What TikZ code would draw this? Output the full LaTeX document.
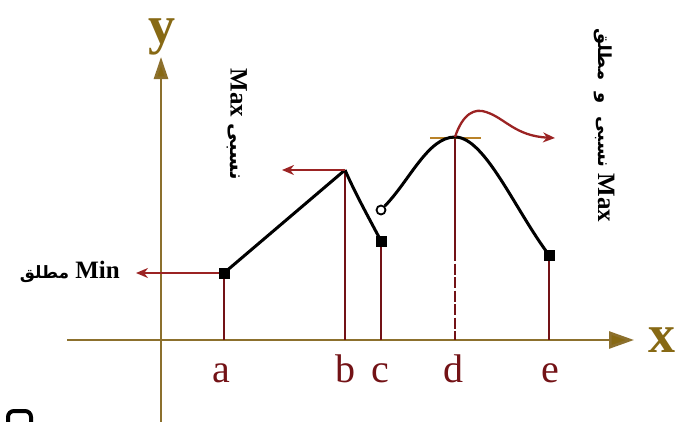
\documentclass[tikz,border=0pt]{standalone}
\usepackage{fontspec}
\setmainfont{Liberation Serif}
\newfontfamily\arabicfont[Script=Arabic]{DejaVu Sans}
\usetikzlibrary{arrows.meta}
\TeXXeTstate=1
\definecolor{axisc}{RGB}{140,112,45}
\definecolor{axisl}{RGB}{135,105,20}
\definecolor{vred}{RGB}{115,18,22}
\definecolor{ared}{RGB}{155,35,35}
\definecolor{tang}{RGB}{185,130,40}
\newcommand{\arsz}[1]{\fontsize{#1}{#1}\selectfont\arabicfont\bfseries}
\tikzset{
  axisline/.style={draw=axisc, line width=2.7pt},
  vline/.style={draw=vred, line width=2.8pt},
  fcurve/.style={draw=black, line width=3pt},
  redarrow/.style={draw=ared, line width=2.3pt, -{Stealth[length=12pt,width=10pt]}},
  sq/.style={draw=black, fill=black, minimum size=10pt, inner sep=0pt, rectangle},
  opc/.style={draw=black, fill=white, line width=1.8pt, circle, minimum size=9pt, inner sep=0pt},
  ptlab/.style={text=vred, font=\fontsize{40}{44}\selectfont, anchor=base},
  axlab/.style={text=axisl, font=\fontsize{54}{58}\selectfont\bfseries, anchor=base},
  note/.style={font=\fontsize{25}{30}\selectfont\bfseries, inner sep=0pt}
}
\begin{document}
\begin{tikzpicture}[x=1pt,y=-1pt]
\useasboundingbox (0,0) rectangle (677,421);
% axes
\coordinate (xs) at (67,340);
\coordinate (xe) at (634,340);
\coordinate (ys) at (161,425);
\coordinate (ye) at (161,57);
\draw[axisline, -{Triangle[length=25pt,width=17pt,fill=axisl]}] (xs) -- (xe);
\draw[axisline, -{Triangle[length=22pt,width=14pt,fill=axisl]}] (ys) -- (ye);
\node[axlab] (xl) at (662,352) {x};
\node[axlab] (yl) at (162,43) {y};
% key points
\coordinate (B) at (345,170);
\coordinate (D) at (455,137);
\coordinate (a0) at (224,340);
\coordinate (b0) at (345,340);
\coordinate (c0) at (381,340);
\coordinate (d0) at (455,340);
\coordinate (dm) at (455,250);
\coordinate (e0) at (549,340);
% verticals
\draw[vline] (a0) -- (224,273);
\draw[vline] (b0) -- (B);
\draw[vline] (c0) -- (381,241);
\draw[vline] (D) -- (dm);
\draw[vline, dash pattern=on 11pt off 2.5pt] (dm) -- (d0);
\draw[vline] (e0) -- (549,255);
% tangent at d
\coordinate (t1) at (430,138);
\coordinate (t2) at (481,138);
\draw[draw=tang, line width=2.6pt] (t1) -- (t2);
% function curve
\node[sq] (A) at (224,273) {};
\node[sq] (C) at (381,241) {};
\node[sq] (E) at (549,255) {};
\node[opc] (O) at (381,210) {};
\draw[fcurve] (A.center) -- (B);
\draw[fcurve] (B) .. controls (356,195) and (370,220) .. (C.center);
\draw[fcurve] (O) .. controls (410,180) and (428,137) .. (D) .. controls (485,137) and (515,210) .. (E.center);
% red arrows
\coordinate (mn) at (136,273);
\coordinate (bl) at (282,170);
\coordinate (dr) at (555,138);
\draw[redarrow] (A) -- (mn);
\draw[redarrow] (B) -- (bl);
\draw[redarrow] (D) .. controls (463,113) and (475,108) .. (486,112) .. controls (505,118) and (515,136) .. (dr);
% labels
\node[note, anchor=east] (minl) at (120,272) {{\arsz{17}\beginR مطلق\endR}\ Min};
\node[note, rotate=-90] (maxl) at (237,124) {Max\ {\arsz{20}\beginR نسبی\endR}};
\node[note, rotate=-90] (maxr) at (604,125) {{\arsz{18}\beginR نسبی\ \ و\ \ مطلق\endR}\ Max};
% point labels
\node[ptlab] (la) at (221,382) {a};
\node[ptlab] (lb) at (345,382) {b};
\node[ptlab] (lc) at (380,382) {c};
\node[ptlab] (ld) at (453,382) {d};
\node[ptlab] (le) at (550,382) {e};
% cut-off glyph at bottom left
\draw[line width=4pt, line cap=round] (8,424) -- (8,417) to[out=90,in=180] (14,411) -- (25,411) to[out=0,in=90] (31,417) -- (31,424);
\end{tikzpicture}
\end{document}
